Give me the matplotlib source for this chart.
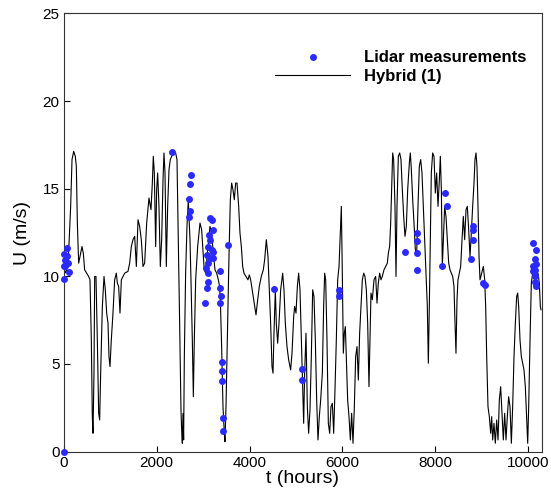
import matplotlib
matplotlib.use("Agg")
import matplotlib.pyplot as plt

plt.rcParams['font.family'] = ['Liberation Sans', 'DejaVu Sans']

# hybrid model series (hours, m/s)
t_model = [0, 40, 93, 150, 179, 215, 250, 272, 294, 322, 351, 394, 423, 451, 495, 537, 566,
           595, 616, 631, 652, 667, 695, 724, 753, 774, 796, 832, 868, 896, 925, 954, 975,
           997, 1025, 1061, 1097, 1133, 1155, 1183, 1212, 1241, 1277, 1313, 1384, 1420, 1456,
           1492, 1528, 1564, 1600, 1635, 1671, 1707, 1743, 1786, 1836, 1879, 1908, 1929, 1951,
           1980, 2001, 2023, 2051, 2080, 2109, 2138, 2159, 2181, 2209, 2238, 2267, 2295, 2324,
           2360, 2381, 2410, 2439, 2468, 2496, 2525, 2539, 2554, 2568, 2582, 2597, 2625, 2654,
           2683, 2697, 2719, 2740, 2769, 2791, 2812, 2841, 2884, 2934, 2970, 3006, 3027, 3056,
           3085, 3113, 3149, 3185, 3221, 3257, 3293, 3329, 3357, 3372, 3400, 3429, 3458, 3472,
           3494, 3522, 3558, 3587, 3616, 3644, 3673, 3702, 3731, 3767, 3795, 3824, 3853, 3881,
           3924, 3967, 3996, 4025, 4068, 4111, 4140, 4168, 4211, 4254, 4297, 4326, 4362, 4398,
           4427, 4455, 4484, 4506, 4527, 4556, 4577, 4606, 4635, 4671, 4714, 4742, 4771, 4807,
           4843, 4886, 4915, 4951, 4972, 5001, 5030, 5058, 5087, 5116, 5144, 5166, 5187, 5216,
           5245, 5273, 5302, 5331, 5360, 5388, 5417, 5446, 5474, 5503, 5532, 5568, 5596, 5618,
           5640, 5668, 5697, 5726, 5754, 5783, 5812, 5840, 5869, 5898, 5927, 5955, 5977, 5998,
           6020, 6041, 6063, 6084, 6113, 6142, 6171, 6199, 6228, 6257, 6285, 6314, 6343, 6371,
           6400, 6429, 6458, 6486, 6515, 6544, 6572, 6594, 6615, 6644, 6680, 6716, 6745, 6773,
           6802, 6831, 6859, 6895, 6931, 6967, 6989, 7017, 7039, 7060, 7082, 7103, 7132, 7154,
           7175, 7204, 7233, 7261, 7290, 7319, 7347, 7376, 7405, 7441, 7462, 7484, 7513, 7541,
           7570, 7599, 7627, 7656, 7685, 7713, 7742, 7771, 7800, 7828, 7850, 7871, 7893, 7914,
           7943, 7972, 8000, 8029, 8058, 8087, 8108, 8130, 8151, 8173, 8201, 8230, 8259, 8288,
           8316, 8345, 8374, 8402, 8424, 8445, 8467, 8488, 8517, 8546, 8575, 8603, 8632, 8661,
           8689, 8718, 8747, 8775, 8804, 8833, 8854, 8876, 8897, 8919, 8941, 8962, 8998, 9034,
           9063, 9084, 9106, 9134, 9163, 9192, 9213, 9235, 9263, 9292, 9321, 9350, 9378, 9407,
           9436, 9464, 9493, 9522, 9550, 9579, 9608, 9637, 9665, 9694, 9723, 9751, 9773, 9795,
           9823, 9852, 9881, 9909, 9938, 9967, 9989, 10010, 10039, 10067, 10096, 10125, 10153,
           10182, 10211, 10239, 10261, 10275]
u_model = [10.5, 10.2, 10.56, 14.0, 16.66, 17.13, 16.85, 16.28, 13.04, 10.75, 11.13, 11.7, 11.3,
           10.37, 10.18, 9.99, 9.8, 6.37, 1.99, 1.04, 4.47, 9.99, 9.99, 6.37, 2.18, 1.8, 4.47,
           8.28, 9.99, 9.23, 7.9, 7.32, 5.42, 4.85, 6.37, 7.9, 9.8, 10.18, 9.61, 9.42, 7.9, 9.8,
           9.99, 10.18, 10.28, 10.75, 11.7, 12.09, 12.28, 10.56, 13.23, 12.85, 12.09, 10.56,
           10.75, 13.04, 14.47, 13.8, 15.3, 16.85, 15.9, 11.7, 14.94, 15.9, 13.99, 10.56, 12.09,
           15.51, 17.04, 15.9, 10.56, 13.99, 16.09, 16.66, 16.85, 16.94, 17.13, 17.04, 16.66,
           12.09, 7.32, 2.37, 1.23, 0.47, 2.18, 0.66, 5.42, 10.18, 12.85, 14.37, 13.42, 12.09,
           9.8, 6.37, 3.13, 6.37, 9.8, 11.7, 13.04, 12.66, 11.13, 10.37, 10.18, 11.13, 11.89,
           12.85, 12.47, 11.32, 10.37, 10.18, 9.8, 9.42, 8.66, 5.99, 2.56, 1.04, 0.56, 2.56,
           6.37, 11.13, 14.37, 15.32, 14.94, 14.37, 15.32, 15.32, 13.99, 12.47, 11.7, 10.56,
           10.18, 9.99, 9.8, 10.08, 9.8, 9.04, 8.28, 7.8, 8.47, 9.42, 9.99, 10.37, 10.94, 12.09,
           11.13, 9.23, 7.32, 4.85, 4.47, 6.75, 9.23, 7.32, 6.18, 7.32, 9.23, 10.18, 9.23, 7.32,
           5.99, 5.23, 4.66, 5.61, 7.7, 8.28, 7.9, 9.42, 10.18, 9.23, 6.37, 3.51, 1.61, 4.47,
           6.75, 2.56, 1.04, 2.37, 5.42, 9.23, 8.85, 6.37, 2.94, 0.66, 1.99, 2.94, 4.47, 8.28,
           10.18, 9.8, 6.37, 1.61, 1.04, 2.56, 2.75, 1.04, 3.51, 6.37, 9.8, 10.56, 12.47, 13.99,
           10.18, 5.61, 6.75, 7.13, 5.42, 2.94, 1.99, 0.66, 2.18, 0.47, 2.56, 5.42, 5.99, 4.08,
           6.75, 8.28, 9.8, 10.18, 9.99, 9.23, 7.32, 3.7, 6.37, 9.04, 8.66, 9.8, 9.99, 8.47,
           9.61, 10.18, 9.8, 9.99, 10.37, 10.56, 10.75, 11.32, 11.7, 13.04, 14.94, 17.04, 16.66,
           13.99, 9.99, 13.99, 16.85, 17.04, 16.66, 14.94, 13.42, 12.28, 12.85, 14.94, 16.47,
           17.04, 16.09, 14.37, 13.04, 11.51, 11.32, 13.99, 16.28, 16.66, 15.9, 13.99, 12.09,
           10.18, 8.28, 5.04, 8.28, 12.09, 15.9, 17.04, 16.85, 14.75, 15.9, 13.99, 15.51, 16.85,
           14.94, 10.56, 12.09, 13.99, 13.42, 12.09, 10.75, 10.37, 10.18, 9.99, 9.42, 7.32, 5.61,
           8.66, 9.8, 10.18, 10.56, 12.09, 13.42, 12.09, 13.8, 13.99, 12.66, 11.13, 12.47, 13.99,
           15.32, 16.66, 17.04, 16.28, 13.99, 11.13, 9.8, 10.18, 10.56, 9.8, 8.28, 5.42, 2.56,
           1.99, 1.04, 1.99, 0.66, 1.61, 0.47, 1.8, 0.66, 2.94, 3.7, 2.18, 0.66, 2.18, 0.66,
           1.99, 3.13, 2.56, 0.47, 2.56, 5.42, 7.32, 8.85, 9.04, 8.28, 6.37, 5.42, 5.04, 4.66,
           3.7, 1.8, 0.47, 2.56, 6.37, 9.61, 10.18, 9.99, 10.18, 9.99, 10.18, 9.61, 8.28, 8.09]

# lidar measurements
t_lidar = [0, 0, 20, 36, 64, 64, 93, 107, 0, 0,
           2324, 2740, 2726, 2704, 2726, 2704, 3149, 3185, 3221, 3128, 3149, 3113, 3185, 3221,
           3078, 3149, 3221, 3099, 3063, 3113, 3113, 3078, 3042, 3365, 3365, 3386, 3365, 3544,
           3400, 3400, 3400, 3436, 3436,
           4534, 5130, 5130, 5927, 5927, 7347, 7599, 7599, 7599, 7599, 8201, 8244, 8144,
           8804, 8804, 8804, 8775, 9034, 9063,
           10096, 10168, 10146, 10168, 10110, 10146, 10146, 10146, 10168, 10110]
u_lidar = [11.26, 10.56, 10.94, 10.56, 11.64, 11.17, 10.75, 10.27, 9.84, 0.0,
           17.08, 15.78, 15.27, 14.41, 13.7, 13.36, 13.32, 13.23, 12.66, 12.37, 12.09, 11.7,
           11.5, 11.4, 11.23, 11.04, 11.04, 10.75, 10.47, 10.18, 9.65, 9.32, 8.47, 10.28, 9.32,
           8.89, 8.5, 11.8, 5.13, 4.6, 4.05, 1.9, 1.19,
           9.29, 4.7, 4.09, 9.23, 8.85, 11.36, 12.47, 11.99, 11.32, 10.37, 14.75, 14.03, 10.6,
           12.89, 12.66, 12.09, 11.0, 9.61, 9.48,
           11.9, 11.51, 10.98, 10.71, 10.6, 10.37, 9.99, 9.7, 9.42, 10.33]

fig = plt.figure(figsize=(5.51, 4.94), dpi=100)
ax = fig.add_axes([0.1156, 0.086, 0.8675, 0.8867])

ax.plot(t_lidar, u_lidar, 'o', color='#2a2aff', markersize=5, markeredgewidth=0,
        label='Lidar measurements', clip_on=False, zorder=3)
ax.plot(t_model, u_model, color='black', linewidth=0.8, label='Hybrid (1)', zorder=2)

ax.set_xlim(0, 10290)
ax.set_ylim(0, 25)
ax.set_xticks([0, 2000, 4000, 6000, 8000, 10000])
ax.set_yticks([0, 5, 10, 15, 20, 25])
ax.tick_params(direction='in', length=4, width=0.8, labelsize=11, pad=3,
               top=False, right=False)
for s in ax.spines.values():
    s.set_linewidth(0.8)
    s.set_color('#333333')

ax.set_xlabel('t (hours)', fontsize=14, labelpad=0)
ax.set_ylabel('U (m/s)', fontsize=14, labelpad=8)

leg = ax.legend(loc='upper right', bbox_to_anchor=(1.0, 0.95), frameon=False,
                prop={'weight': 'bold', 'size': 12}, handlelength=4.5,
                handletextpad=0.85, labelspacing=0.2)

fig.savefig('out.png', dpi=100)
